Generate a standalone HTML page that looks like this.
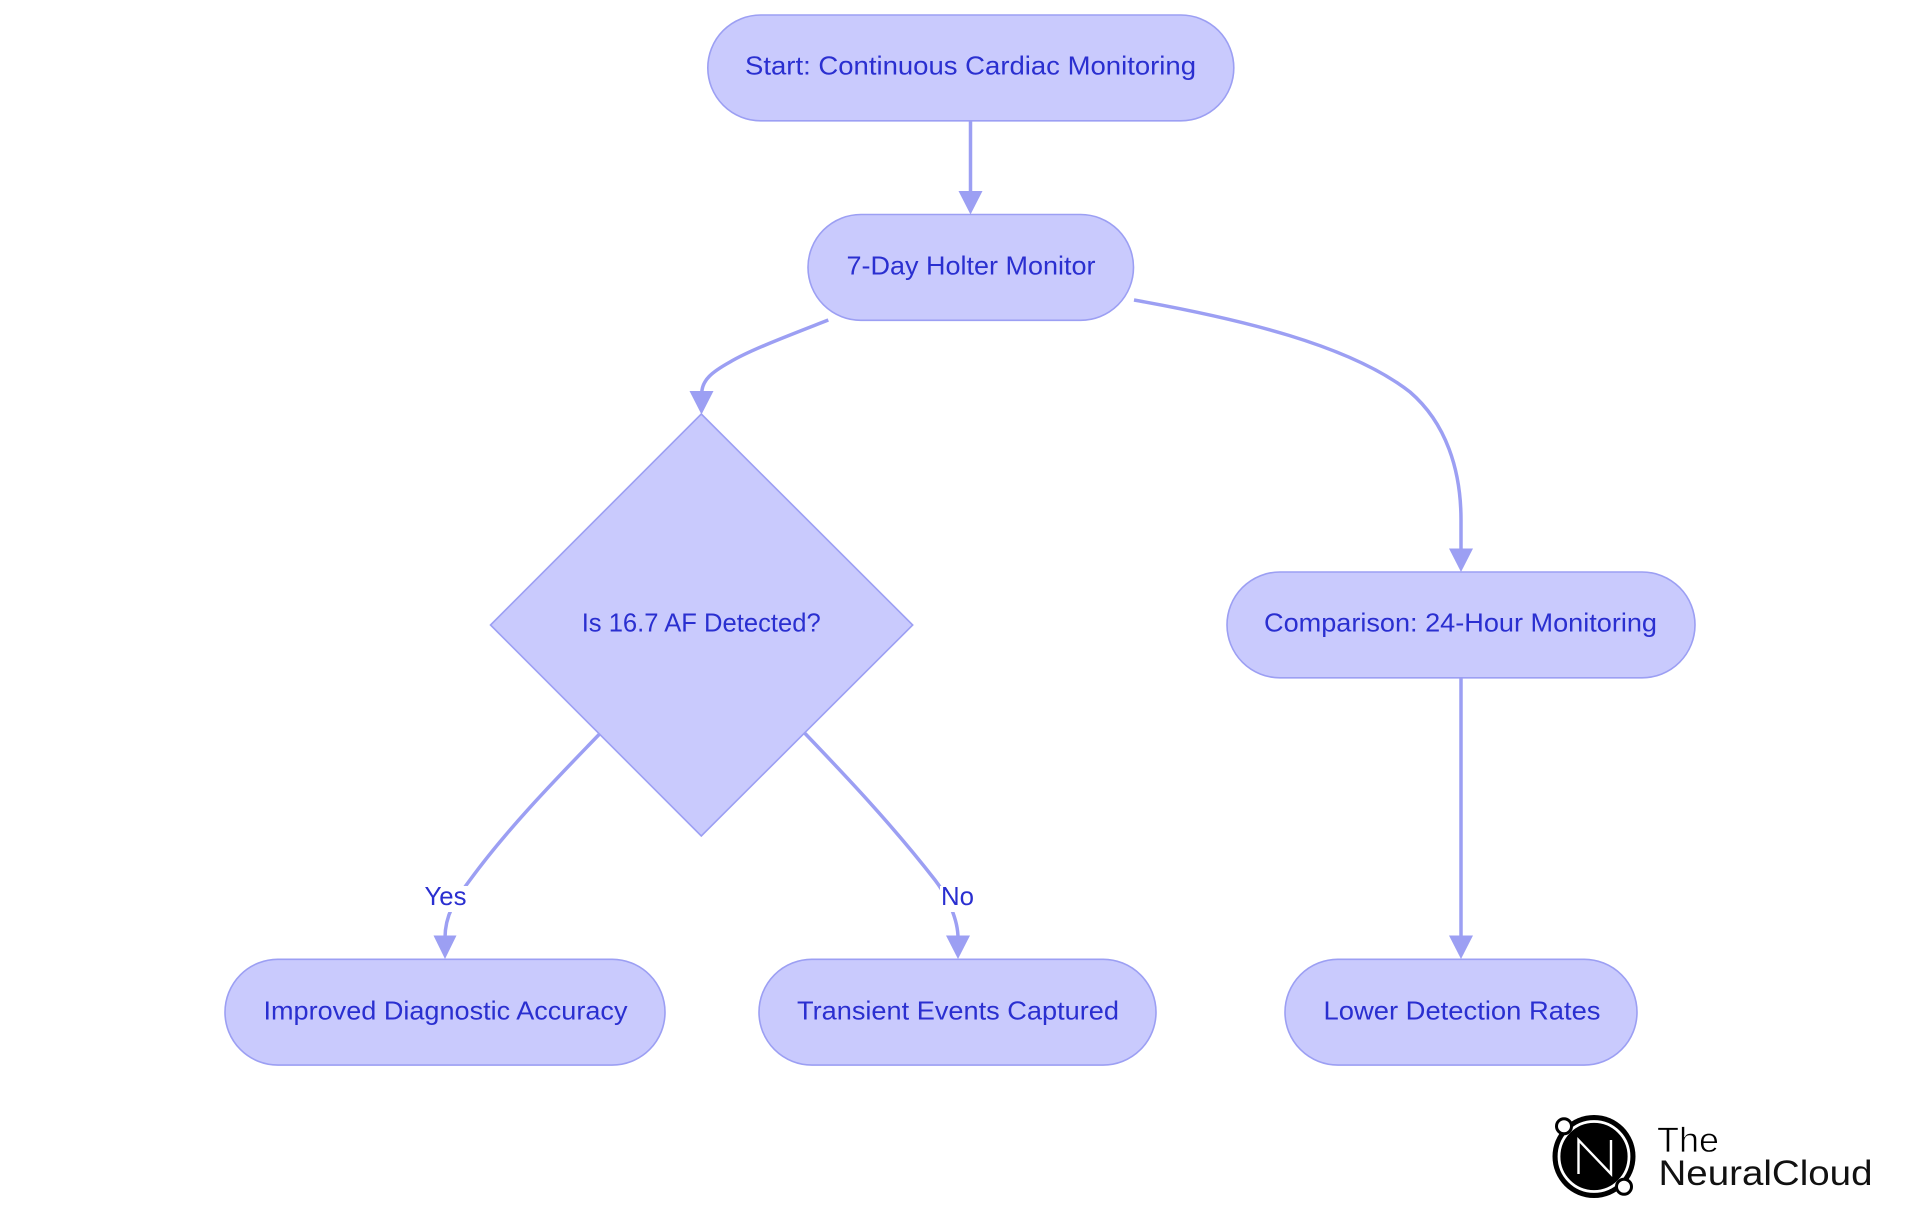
<!DOCTYPE html>
<html lang="en">
<head>
<meta charset="utf-8">
<title>Continuous Cardiac Monitoring Flowchart</title>
<style>
html,body{margin:0;padding:0;background:#fff;width:1920px;height:1215px;overflow:hidden}
svg{display:block}
.n{fill:#c9cafd;stroke:#9c9ff3;stroke-width:1.6}
.e{fill:none;stroke:#9c9ff3;stroke-width:3.5}
.a{fill:#9c9ff3}
text{font-family:"Liberation Sans",sans-serif}
.t{font-size:26px;fill:#2a2fd0}
.l{font-size:26px;fill:#2a2fd0}
</style>
</head>
<body>
<svg width="1920" height="1215" viewBox="0 0 1920 1215" xmlns="http://www.w3.org/2000/svg">
<rect width="1920" height="1215" fill="#fff"/>

<!-- edges -->
<path class="e" d="M970.5 121V193"/>
<polygon class="a" points="958.5,191 982.5,191 970.5,214.5"/>

<path class="e" d="M828.3 320C790 335 750 350 730 362C712 372 702 380 701.8 393"/>
<polygon class="a" points="689.5,391 713.5,391 701.5,414.5"/>

<path class="e" d="M1134 300C1240 319 1350 345 1410 392C1446 423 1461 470 1461 520V552"/>
<polygon class="a" points="1449,548.5 1473,548.5 1461,572"/>

<path class="e" d="M1461 678V937"/>
<polygon class="a" points="1449,935.5 1473,935.5 1461,959"/>

<path class="e" d="M600.5 733C565 770 510 825 470 880C455 900 445 915 445 938"/>
<polygon class="a" points="433.5,935.5 456.5,935.5 445,959"/>

<path class="e" d="M804.6 733C840 770 890 822 935 880C948 897 958 920 958 938"/>
<polygon class="a" points="946,935.5 970,935.5 958,959"/>

<!-- edge labels -->
<rect x="422" y="886" width="46" height="26" fill="#fff"/>
<rect x="940" y="886" width="35" height="26" fill="#fff"/>
<text class="l" x="424.5" y="905" textLength="42" lengthAdjust="spacingAndGlyphs">Yes</text>
<text class="l" x="941" y="905" textLength="33" lengthAdjust="spacingAndGlyphs">No</text>

<!-- nodes -->
<rect class="n" x="707.8" y="15" width="526" height="105.8" rx="52.9" ry="52.9"/>
<text class="t" x="745" y="74.5" textLength="451" lengthAdjust="spacingAndGlyphs">Start: Continuous Cardiac Monitoring</text>

<rect class="n" x="808" y="214.5" width="325.5" height="105.8" rx="52.9" ry="52.9"/>
<text class="t" x="846.5" y="274.5" textLength="249" lengthAdjust="spacingAndGlyphs">7-Day Holter Monitor</text>

<polygon class="n" points="701.3,414 912.7,625 701.3,836 490.5,625"/>
<text class="t" x="581.7" y="631.5" textLength="239" lengthAdjust="spacingAndGlyphs">Is 16.7 AF Detected?</text>

<rect class="n" x="1227" y="572" width="468" height="105.8" rx="52.9" ry="52.9"/>
<text class="t" x="1264" y="631.5" textLength="393" lengthAdjust="spacingAndGlyphs">Comparison: 24-Hour Monitoring</text>

<rect class="n" x="225" y="959.3" width="440" height="105.8" rx="52.9" ry="52.9"/>
<text class="t" x="263.5" y="1019.5" textLength="364" lengthAdjust="spacingAndGlyphs">Improved Diagnostic Accuracy</text>

<rect class="n" x="759" y="959.3" width="397" height="105.8" rx="52.9" ry="52.9"/>
<text class="t" x="797" y="1019.5" textLength="322" lengthAdjust="spacingAndGlyphs">Transient Events Captured</text>

<rect class="n" x="1285" y="959.3" width="352" height="105.8" rx="52.9" ry="52.9"/>
<text class="t" x="1323.5" y="1019.5" textLength="277" lengthAdjust="spacingAndGlyphs">Lower Detection Rates</text>

<!-- logo -->
<circle cx="1594" cy="1156.5" r="41.5" fill="#000"/>
<circle cx="1594" cy="1156.5" r="35" fill="#000" stroke="#fff" stroke-width="2.8"/>
<path d="M1578.5 1174V1140L1611 1174V1140" fill="none" stroke="#fff" stroke-width="2.4"/>
<circle cx="1564" cy="1126.3" r="7.5" fill="#fff" stroke="#000" stroke-width="3"/>
<circle cx="1624" cy="1186.7" r="7.5" fill="#fff" stroke="#000" stroke-width="3"/>
<text x="1657" y="1152" font-size="35" textLength="62" lengthAdjust="spacingAndGlyphs" fill="#000" stroke="#fff" stroke-width=".7">The</text>
<text x="1658.5" y="1185" font-size="35" textLength="214" lengthAdjust="spacingAndGlyphs" fill="#111">NeuralCloud</text>
</svg>
</body>
</html>
